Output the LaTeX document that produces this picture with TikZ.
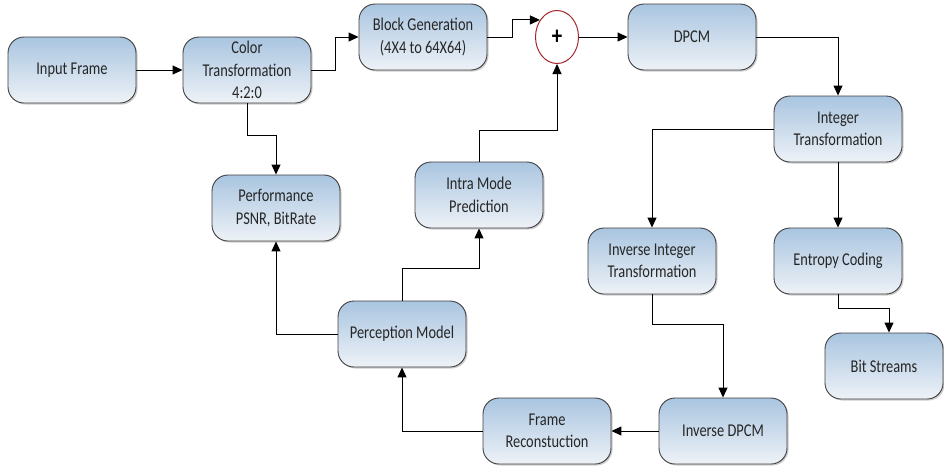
\documentclass[tikz,border=0pt]{standalone}
\usepackage{fontspec}
\setmainfont{Carlito}[FakeStretch=0.8]
\usepackage{tikz}
\usetikzlibrary{arrows.meta,positioning,shapes.geometric,shadows}
\usepackage{xcolor}
\definecolor{blocktop}{HTML}{A9C5E0}
\definecolor{blockbot}{HTML}{EEF2F7}
\definecolor{sumred}{HTML}{A3262B}

\begin{document}
\begin{tikzpicture}[x=1pt, y=-1pt,
    block/.style={draw=black!75, line width=0.9pt, rounded corners=16pt,
        top color=blocktop, bottom color=blockbot,
        minimum width=128pt, minimum height=66pt, inner sep=0pt, align=center,
        font=\fontsize{18}{22.5}\selectfont, text=black!85,
        drop shadow={shadow xshift=1.5pt, shadow yshift=-1.5pt, fill=black!40}},
    arr/.style={-{Triangle[length=10pt,width=9pt]}, line width=1pt}]
    \useasboundingbox (0,0) rectangle (944,469);

    % Encoder blocks
    \node[block] (inp) at (72,70) {Input Frame};
    \node[block] (color) at (247,70) {Color\\Transformation\\4:2:0};
    \node[block] (blockgen) at (423,37) {Block Generation\\(4X4 to 64X64)};
    \node[draw=sumred, line width=1pt, fill=white, ellipse, minimum width=43pt, minimum height=53pt,
        inner sep=0pt, font=\fontsize{26}{26}\selectfont\bfseries] (plus) at (557,37) {+};
    \node[block] (dpcm) at (692,37) {DPCM};
    \node[block] (intT) at (838,129) {Integer\\Transformation};
    \node[block] (ent) at (838,261) {Entropy Coding};
    \node[block, minimum width=118pt] (bits) at (884,366) {Bit Streams};

    % Reconstruction loop
    \node[block] (perf) at (276,208) {Performance\\PSNR, BitRate};
    \node[block] (intra) at (479,195) {Intra Mode\\Prediction};
    \node[block] (invT) at (652,261) {Inverse Integer\\Transformation};
    \node[block] (perc) at (402,334) {Perception Model};
    \node[block] (frame) at (547,431) {Frame\\Reconstuction};
    \node[block] (invD) at (723,431) {Inverse DPCM};

    \draw[arr] (inp) -- (color);
    \draw[arr] (color.east) -- ++(24,0) |- (blockgen.west);
    \draw[arr] (blockgen.east) -- ++(25,0) |- (plus.135);
    \draw[arr] (plus) -- (dpcm);
    \draw[arr] (dpcm.east) -| (intT.north);
    \draw[arr] (intT.west) -| (invT.north);
    \draw[arr] (intT) -- (ent);
    \draw[arr] (ent.south) -- ++(0,14) -| ([xshift=5pt]bits.north);
    \draw[arr] (invT.south) -- ++(0,30) -| (invD.north);
    \draw[arr] (invD) -- (frame);
    \draw[arr] (frame.west) -| (perc.south);
    \draw[arr] (perc.west) -| (perf.south);
    \draw[arr] (perc.north) -- ++(0,-32) -| (intra.south);
    \draw[arr] (intra.north) -- ++(0,-31) -| (plus.south);
    \draw[arr] (color.south) -- ++(0,32) -| (perf.north);
\end{tikzpicture}
\end{document}
